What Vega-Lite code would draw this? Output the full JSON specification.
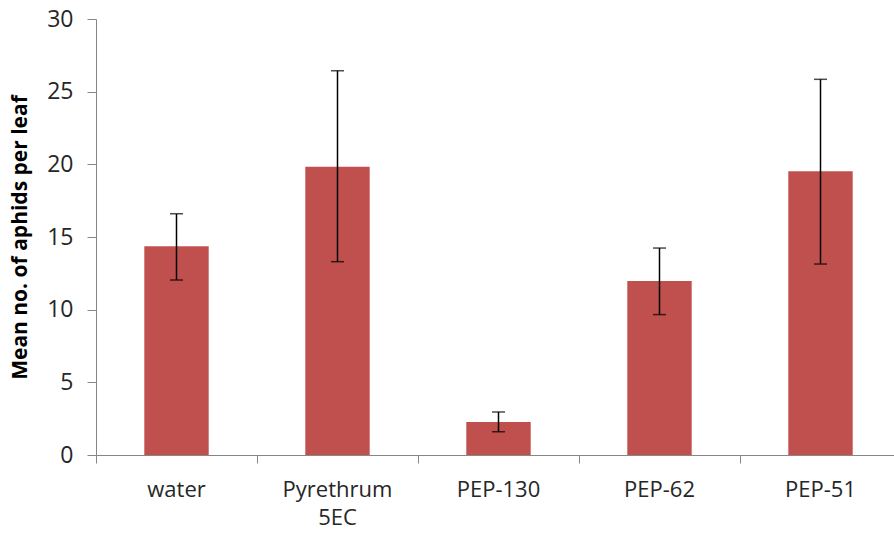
{
  "$schema": "https://vega.github.io/schema/vega-lite/v6.json",
  "width": 805,
  "height": 436,
  "autosize": "none",
  "padding": {"left": 96, "top": 19, "right": 0, "bottom": 79},
  "background": "white",
  "config": {"view": {"stroke": null}, "font": "Open Sans"},
  "data": {"values": [
    {"treatment": "water", "mean": 14.36, "lo": 12.04, "hi": 16.60},
    {"treatment": "Pyrethrum 5EC", "mean": 19.84, "lo": 13.30, "hi": 26.44},
    {"treatment": "PEP-130", "mean": 2.27, "lo": 1.60, "hi": 2.96},
    {"treatment": "PEP-62", "mean": 11.97, "lo": 9.66, "hi": 14.24},
    {"treatment": "PEP-51", "mean": 19.52, "lo": 13.14, "hi": 25.85}
  ]},
  "encoding": {
    "x": {
      "field": "treatment", "type": "nominal", "sort": null,
      "scale": {"paddingInner": 0, "paddingOuter": 0},
      "axis": {
        "title": null, "labelAngle": 0, "bandPosition": 0,
        "domainColor": "#868686", "tickColor": "#868686", "tickSize": 8,
        "labelFontSize": 22, "labelColor": "#262626", "labelPadding": 16,
        "labelLineHeight": 28, "labelBaseline": "top",
        "labelExpr": "datum.label == 'Pyrethrum 5EC' ? ['Pyrethrum', '5EC'] : datum.label"
      }
    }
  },
  "layer": [
    {
      "mark": {"type": "bar", "width": {"band": 0.4}, "color": "#C0504D"},
      "encoding": {
        "y": {
          "field": "mean", "type": "quantitative",
          "scale": {"domain": [0, 30], "nice": false},
          "axis": {
            "values": [0, 5, 10, 15, 20, 25, 30], "grid": false,
            "domainColor": "#868686", "tickColor": "#868686", "tickSize": 9,
            "labelFontSize": 23, "labelColor": "#262626", "labelPadding": 14,
            "title": "Mean no. of aphids per leaf", "titleFontSize": 21,
            "titleFontWeight": "bold", "titleColor": "#000000",
            "titleX": -76, "titleY": 218, "titleBaseline": "middle", "titleAngle": -90
          }
        }
      }
    },
    {
      "mark": {"type": "rule", "color": "#000000", "strokeWidth": 1.5},
      "encoding": {
        "y": {"field": "lo", "type": "quantitative"},
        "y2": {"field": "hi"}
      }
    },
    {
      "mark": {"type": "tick", "color": "#000000", "size": 13, "thickness": 1.5, "orient": "horizontal"},
      "encoding": {"y": {"field": "hi", "type": "quantitative"}}
    },
    {
      "mark": {"type": "tick", "color": "#000000", "size": 13, "thickness": 1.5, "orient": "horizontal"},
      "encoding": {"y": {"field": "lo", "type": "quantitative"}}
    }
  ]
}
